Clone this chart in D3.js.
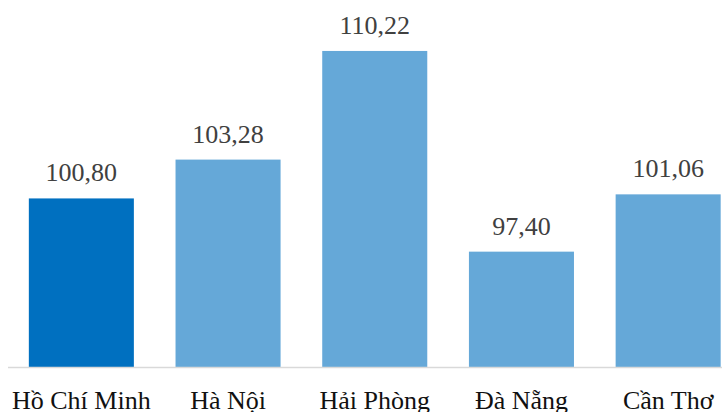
<!DOCTYPE html>
<html>
<head>
<meta charset="utf-8">
<script src="https://cdn.jsdelivr.net/npm/d3@7"></script>
<style>
  html, body { margin: 0; padding: 0; background: #fff; }
  svg { display: block; }
  svg text { font-family: "Liberation Serif", "Times New Roman", Times, serif; font-size: 26px; }
</style>
</head>
<body>
<svg id="chart" width="722" height="412"></svg>
<script>
const categories = ["Hồ Chí Minh", "Hà Nội", "Hải Phòng", "Đà Nẵng", "Cần Thơ"];
const values = [100.80, 103.28, 110.22, 97.40, 101.06];
const valueLabels = ["100,80", "103,28", "110,22", "97,40", "101,06"];
const highlight = ["Hồ Chí Minh"];

const svg = d3.select("#chart");
const W = 722, H = 412;

const x = d3.scaleBand()
  .domain(categories)
  .range([8, 741.5])
  .paddingInner(0.284)
  .paddingOuter(0.142);

const y = d3.scaleLinear()
  .domain([90, 115])
  .range([367.5, 367.5 - 25 * 15.655]);

const baseY = 367;

svg.append("g")
  .selectAll("rect")
  .data(categories)
  .join("rect")
  .attr("x", d => x(d))
  .attr("width", x.bandwidth())
  .attr("y", (d, i) => y(values[i]))
  .attr("height", (d, i) => baseY - y(values[i]))
  .attr("fill", d => highlight.includes(d) ? "#0070C0" : "#65A8D8");

// category axis
const xAxis = d3.axisBottom(x).tickSize(0).tickPadding(28);
const ax = svg.append("g")
  .attr("transform", `translate(0,${baseY + 0.5})`)
  .call(xAxis)
  .attr("font-family", null)
  .attr("font-size", null);
ax.select(".domain")
  .attr("d", `M8,0H${W}`)
  .attr("stroke", "#D9D9D9")
  .attr("stroke-width", 1.5);
ax.selectAll(".tick text")
  .style("font-family", "'Liberation Serif', 'Times New Roman', serif")
  .style("font-size", "26px")
  .attr("fill", "#111")
  .attr("dy", null)
  .attr("y", 41.5);

// value labels
svg.append("g")
  .selectAll("text")
  .data(categories)
  .join("text")
  .attr("x", d => x(d) + x.bandwidth() / 2)
  .attr("y", (d, i) => y(values[i]) - 17)
  .attr("text-anchor", "middle")
  .style("font-family", "'Liberation Serif', 'Times New Roman', serif")
  .style("font-size", "26px")
  .attr("fill", "#404040")
  .text((d, i) => valueLabels[i]);
</script>
</body>
</html>
